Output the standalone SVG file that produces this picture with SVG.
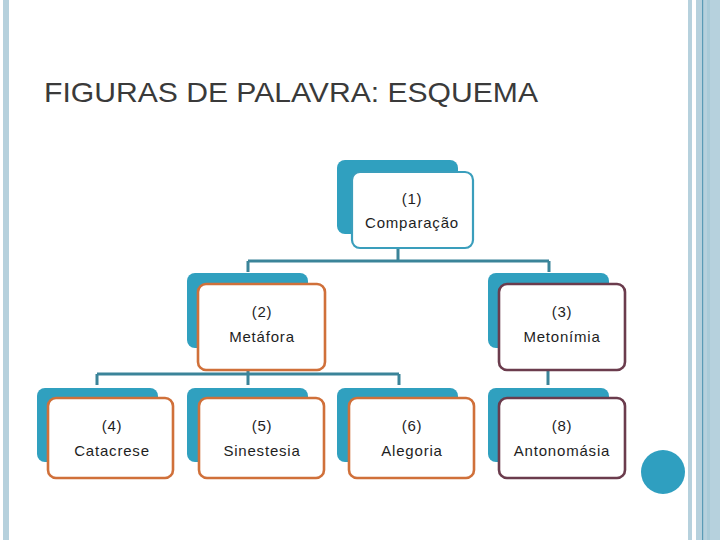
<svg xmlns="http://www.w3.org/2000/svg" width="720" height="540" viewBox="0 0 720 540">
<style>
.back{fill:#30A0BF}
.front{fill:#FFFFFF;stroke-width:2.6}
.f1{stroke:#3A9EBC;stroke-width:2.2}
.or{stroke:#D0703A}
.mr{stroke:#6B3C4D}
.lbl{font-family:"Liberation Sans",Arial,sans-serif;font-size:15px;fill:#1E1E1E;text-anchor:middle;letter-spacing:0.8px}
.con{stroke:#3B8499;stroke-width:3;fill:none}
</style>
<rect x="0" y="0" width="720" height="540" fill="#FFFFFF"/>
<rect x="3" y="0" width="6" height="540" fill="#B6D1DD"/>
<rect x="688" y="0" width="4" height="540" fill="#B6D1DD"/>
<rect x="696" y="0" width="24" height="540" fill="#B6D1DD"/>
<rect x="707" y="0" width="3" height="540" fill="#A9CBD8"/>
<rect x="702" y="0" width="1.2" height="540" fill="#5A9BB6"/>
<circle cx="663" cy="472" r="22" fill="#2F9FC0"/>
<text x="44" y="102" font-family="'Liberation Sans',Arial,sans-serif" font-size="28.5" fill="#3A3A3A" textLength="494" lengthAdjust="spacingAndGlyphs">FIGURAS DE PALAVRA: ESQUEMA</text>
<g id="connectors">
<path class="con" d="M398 248 V261 M248 261 H549 M248 261 V272 M549 261 V272"/>
<path class="con" d="M248 370 V385 M97 374 H399 M97 374 V385 M399 374 V385"/>
<path class="con" d="M548 370 V385"/>
</g>
<g id="node1">
<rect class="back" x="337" y="160" width="121" height="74" rx="8"/>
<rect class="front f1" x="352" y="172" width="121" height="76" rx="8"/>
<text class="lbl" x="412" y="204">(1)</text>
<text class="lbl" x="412" y="228">Comparação</text>
</g>
<g id="node2">
<rect class="back" x="187" y="273" width="121" height="75" rx="8"/>
<rect class="front or" x="198" y="284" width="127" height="86" rx="8"/>
<text class="lbl" x="262" y="317">(2)</text>
<text class="lbl" x="262" y="342">Metáfora</text>
</g>
<g id="node3">
<rect class="back" x="488" y="273" width="121" height="75" rx="8"/>
<rect class="front mr" x="499" y="284" width="126" height="86" rx="8"/>
<text class="lbl" x="562" y="317">(3)</text>
<text class="lbl" x="562" y="342">Metonímia</text>
</g>
<g id="node4">
<rect class="back" x="37" y="388" width="121" height="74" rx="8"/>
<rect class="front or" x="48" y="398" width="125" height="80" rx="8"/>
<text class="lbl" x="112" y="431">(4)</text>
<text class="lbl" x="112" y="456">Catacrese</text>
</g>
<g id="node5">
<rect class="back" x="187" y="388" width="121" height="74" rx="8"/>
<rect class="front or" x="199" y="398" width="125" height="80" rx="8"/>
<text class="lbl" x="262" y="431">(5)</text>
<text class="lbl" x="262" y="456">Sinestesia</text>
</g>
<g id="node6">
<rect class="back" x="337" y="388" width="121" height="74" rx="8"/>
<rect class="front or" x="349" y="398" width="125" height="80" rx="8"/>
<text class="lbl" x="412" y="431">(6)</text>
<text class="lbl" x="412" y="456">Alegoria</text>
</g>
<g id="node8">
<rect class="back" x="488" y="388" width="121" height="74" rx="8"/>
<rect class="front mr" x="499" y="398" width="126" height="80" rx="8"/>
<text class="lbl" x="562" y="431">(8)</text>
<text class="lbl" x="562" y="456">Antonomásia</text>
</g>
</svg>
